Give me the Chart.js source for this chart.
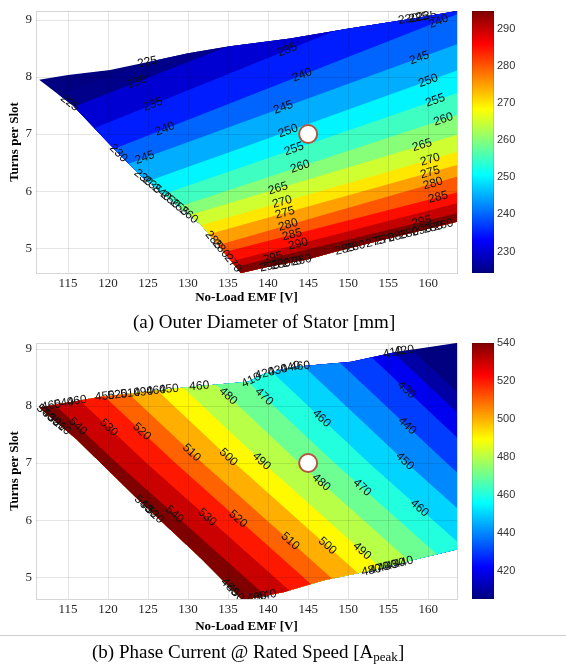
<!DOCTYPE html>
<html>
<head>
<meta charset="utf-8">
<script src="https://cdn.jsdelivr.net/npm/chart.js@4.4.1/dist/chart.umd.min.js"></script>
<style>
  body { margin: 0; background: #fff; width: 566px; height: 664px; position: relative; overflow: hidden; }
  .box { position: absolute; left: 0; width: 566px; }
  #boxA { top: 0; height: 312px; }
  #boxB { top: 332px; height: 306px; }
  .caption { position: absolute; font-family: "Liberation Serif", serif; font-size: 19px; color: #000; white-space: nowrap; line-height: 22px; }
  .caption sub { font-size: 13px; vertical-align: -3px; line-height: 0; }
  #capA { left: 133px; top: 311px; }
  #capB { left: 92px; top: 641px; }
  #sep { position: absolute; left: 0; top: 635px; width: 566px; height: 1px; background: #cfcfcf; }
</style>
</head>
<body>
<div class="box" id="boxA"><canvas id="chartA"></canvas></div>
<div class="caption" id="capA">(a) Outer Diameter of Stator [mm]</div>
<div class="box" id="boxB"><canvas id="chartB"></canvas></div>
<div id="sep"></div>
<div class="caption" id="capB">(b) Phase Current @ Rated Speed [A<sub>peak</sub>]</div>
<script>
// axes shared by both plots
const emfTicks = [115, 120, 125, 130, 135, 140, 145, 150, 155, 160];
const turnTicks = [5, 6, 7, 8, 9];
const designPoint = [{ x: 145, y: 7 }];

// ---- (a) outer diameter of stator [mm]
const levelsA = [225, 230, 235, 240, 245, 250, 255, 260, 265, 270, 275, 280, 285, 290, 295];
// each contour line as [EMF, turns] points (values grow towards the bottom)
const linesA = [
  [[108, 7.40], [137.5, 8.87], [167, 10.35]],
  [[108, 7.05], [137.5, 8.67], [167, 10.30]],
  [[108, 6.52], [137.5, 8.19], [167, 9.86]],
  [[108, 6.04], [137.5, 7.66], [167, 9.28]],
  [[108, 5.74], [137.5, 7.24], [167, 8.74]],
  [[108, 5.33], [137.5, 6.80], [167, 8.28]],
  [[108, 5.04], [137.5, 6.46], [167, 7.88]],
  [[108, 4.77], [137.5, 6.13], [167, 7.49]],
  [[108, 4.65], [137.5, 5.89], [167, 7.13]],
  [[108, 4.46], [137.5, 5.64], [167, 6.82]],
  [[108, 4.29], [137.5, 5.44], [167, 6.59]],
  [[108, 4.03], [137.5, 5.21], [167, 6.39]],
  [[108, 3.98], [137.5, 5.04], [167, 6.10]],
  [[108, 3.79], [137.5, 4.85], [167, 5.91]],
  [[108, 3.73], [137.5, 4.73], [167, 5.73]]
];
// feasible design region
const topA = [[111.4, 7.95], [115, 8.03], [120.25, 8.12], [125, 8.26], [130, 8.41], [135, 8.53], [142.75, 8.67], [149.9, 8.84], [158.1, 9.02], [164, 9.16]];
const leftA = [[111.4, 7.95], [115.6, 7.50], [120.25, 6.81], [124, 6.28], [131.7, 5.40], [136.6, 4.57]];
const bottomA = [[136.6, 4.57], [140, 4.68], [145, 4.81], [148.6, 4.95], [154.4, 5.15], [164, 5.48]];
// contour labels: [level, EMF]
const labelsA = [[230, 123.6], [235, 125.6], [235, 142.4], [240, 127.1], [240, 144.25], [240, 161.3],
  [245, 124.6], [245, 141.9], [245, 158.9], [250, 142.5], [250, 160], [255, 143.25], [255, 160.9],
  [260, 144], [260, 161.9], [265, 141.25], [265, 159.25], [270, 141.75], [270, 160.25],
  [275, 142.1], [275, 160.25], [280, 142.5], [280, 160.6], [285, 143], [285, 161.25],
  [290, 143.75], [295, 140.6], [295, 159.2]];
// labels piled up on the region border: [text, edge, EMF]
const edgeLabelsA = [
  ['225', 'top', 124.9], ['230', 'top', 157.5], ['225', 'top', 158.8], ['235', 'top', 159.8],
  ['225', 'left', 115.2], ['230', 'left', 121.3], ['230', 'left', 124.4], ['235', 'left', 125.5],
  ['240', 'left', 126.7], ['250', 'left', 127.8], ['255', 'left', 128.9], ['260', 'left', 130.1],
  ['285', 'left', 133.2], ['280', 'left', 134.1], ['270', 'left', 135.6],
  ['295', 'bottom', 140.2], ['280', 'bottom', 141.6], ['270', 'bottom', 143.0], ['260', 'bottom', 144.2],
  ['285', 'bottom', 149.6], ['280', 'bottom', 150.9], ['275', 'bottom', 153.4], ['270', 'bottom', 154.6],
  ['285', 'bottom', 156.2], ['280', 'bottom', 157.6], ['290', 'bottom', 159.2], ['280', 'bottom', 160.6], ['260', 'bottom', 161.9]
];
const cbTicksA = [230, 240, 250, 260, 270, 280, 290];

// ---- (b) phase current @ rated speed [A peak]
const levelsB = [410, 420, 430, 440, 450, 460, 470, 480, 490, 500, 510, 520, 530, 540];
// each contour line as [EMF, turns] points from top to bottom (values grow towards lower left)
const linesB = [
  [[154.0, 9.5], [173.0, 7], [194.6, 4.3]],
  [[151.3, 9.5], [170.3, 7], [191.9, 4.3]],
  [[148.0, 9.5], [167.0, 7], [188.6, 4.3]],
  [[143.3, 9.5], [162.3, 7], [183.9, 4.3]],
  [[138.3, 9.5], [157.3, 7], [178.9, 4.3]],
  [[133.6, 9.5], [152.6, 7], [174.2, 4.3]],
  [[129.3, 9.5], [148.3, 7], [169.9, 4.3]],
  [[124.9, 9.5], [143.9, 7], [165.5, 4.3]],
  [[120.4, 9.5], [139.4, 7], [161.0, 4.3]],
  [[116.8, 9.5], [135.8, 7], [157.4, 4.3]],
  [[112.8, 9.5], [131.8, 7], [153.4, 4.3]],
  [[109.4, 9.5], [128.4, 7], [150.0, 4.3]],
  [[105.8, 9.5], [124.8, 7], [146.4, 4.3]],
  [[102.1, 9.5], [121.1, 7], [142.7, 4.3]]
];
const topB = [[111.4, 7.97], [119.1, 8.16], [130.1, 8.33], [137.5, 8.42], [139.5, 8.56], [143, 8.68], [150.4, 8.77], [155.8, 8.94], [164, 9.11]];
const leftB = [[111.4, 7.97], [116.1, 7.41], [123.7, 6.37], [131.7, 5.32], [136.8, 4.60]];
const bottomB = [[136.8, 4.60], [141.9, 4.74], [147, 4.95], [152.9, 5.12], [158, 5.30], [164, 5.50]];
// contour labels: [level, turns]
const labelsB = [[540, 7.64], [540, 6.1], [530, 7.62], [530, 6.05], [520, 7.55], [520, 6.02],
  [510, 7.18], [510, 5.63], [500, 7.1], [500, 5.55], [490, 7.03], [490, 5.46],
  [480, 8.17], [480, 6.66], [470, 8.16], [470, 6.57], [460, 7.78], [460, 6.21],
  [450, 7.03], [440, 7.65], [430, 8.28]];
const edgeLabelsB = [
  ['540', 'left', 112.2], ['530', 'left', 112.9], ['520', 'left', 113.6], ['510', 'left', 114.2],
  ['540', 'left', 124.4], ['530', 'left', 125.1], ['520', 'left', 125.8],
  ['460', 'left', 135.2], ['450', 'left', 135.9],
  ['460', 'top', 112.9], ['540', 'top', 114.5], ['460', 'top', 116.1], ['450', 'top', 119.6], ['520', 'top', 121.2],
  ['510', 'top', 122.8], ['490', 'top', 124.4], ['460', 'top', 126.0], ['450', 'top', 127.6], ['460', 'top', 131.4],
  ['410', 'top', 137.9], ['420', 'top', 139.6], ['430', 'top', 141.2], ['440', 'top', 142.8], ['460', 'top', 144.0],
  ['410', 'top', 155.6], ['420', 'top', 157.0],
  ['460', 'bottom', 138.6], ['440', 'bottom', 139.8],
  ['480', 'bottom', 152.9], ['470', 'bottom', 153.9], ['460', 'bottom', 154.9], ['450', 'bottom', 155.9], ['440', 'bottom', 156.9]
];
const cbTicksB = [420, 440, 460, 480, 500, 520, 540];

// matlab jet colormap
function jet(t) {
  const c = v => Math.round(255 * Math.max(0, Math.min(1, v)));
  return `rgb(${c(1.5 - Math.abs(4 * t - 3))},${c(1.5 - Math.abs(4 * t - 2))},${c(1.5 - Math.abs(4 * t - 1))})`;
}

// point on a polyline where coordinate i equals v, with the segment it lies on
function along(pts, i, v) {
  for (let k = 0; k < pts.length - 1; k++) {
    const a = pts[k][i], b = pts[k + 1][i];
    if ((v - a) * (v - b) <= 0 && a !== b) {
      const t = (v - a) / (b - a);
      const p = [pts[k][0] + t * (pts[k + 1][0] - pts[k][0]), pts[k][1] + t * (pts[k + 1][1] - pts[k][1])];
      return { p: p, a: pts[k], b: pts[k + 1] };
    }
  }
  return null;
}

function contourPlugin(o) {
  return {
    id: 'contour',
    beforeDatasetsDraw(chart) {
      const { ctx, chartArea: a, scales: { x, y, cb } } = chart;
      const px = p => [x.getPixelForValue(p[0]), y.getPixelForValue(p[1])];
      const col = v => jet((v - o.cmin) / (o.cmax - o.cmin));

      ctx.save();
      ctx.beginPath();
      ctx.rect(a.left, a.top, a.right - a.left, a.bottom - a.top);
      ctx.clip();
      const outline = [...o.top, ...o.bottom.slice().reverse(), ...o.left.slice().reverse()];
      ctx.beginPath();
      outline.forEach((p, i) => { const [u, v] = px(p); i ? ctx.lineTo(u, v) : ctx.moveTo(u, v); });
      ctx.closePath();
      ctx.clip();
      ctx.fillStyle = col(o.cmin);
      ctx.fillRect(a.left, a.top, a.right - a.left, a.bottom - a.top);
      o.levels.forEach((lev, k) => {
        const pts = o.lines[k].map(px);
        ctx.beginPath();
        pts.forEach(([u, v], i) => i ? ctx.lineTo(u, v) : ctx.moveTo(u, v));
        const f = pts[0], l = pts[pts.length - 1];
        if (o.side === 'below') {
          ctx.lineTo(l[0], a.bottom + 300);
          ctx.lineTo(f[0], a.bottom + 300);
        } else {
          ctx.lineTo(a.left - 300, l[1]);
          ctx.lineTo(a.left - 300, f[1]);
        }
        ctx.closePath();
        ctx.fillStyle = col(lev);
        ctx.fill();
      });
      ctx.restore();

      // grid and box on top of the filled contours
      ctx.save();
      ctx.strokeStyle = 'rgba(0,0,0,0.10)';
      ctx.lineWidth = 1;
      ctx.beginPath();
      x.ticks.forEach(t => {
        const u = Math.round(x.getPixelForValue(t.value)) + 0.5;
        ctx.moveTo(u, a.top); ctx.lineTo(u, a.bottom);
      });
      y.ticks.forEach(t => {
        const v = Math.round(y.getPixelForValue(t.value)) + 0.5;
        ctx.moveTo(a.left, v); ctx.lineTo(a.right, v);
      });
      ctx.stroke();
      ctx.strokeStyle = 'rgba(0,0,0,0.16)';
      ctx.strokeRect(Math.round(a.left) + 0.5, Math.round(a.top) + 0.5, Math.round(a.right - a.left), Math.round(a.bottom - a.top));

      // colour bar
      const x0 = a.right + 15;
      for (let v = Math.floor(cb.top); v < cb.bottom; v++) {
        ctx.fillStyle = jet((cb.getValueForPixel(v + 0.5) - o.cmin) / (o.cmax - o.cmin));
        ctx.fillRect(x0, v, 22, 1);
      }
      ctx.strokeStyle = 'rgba(0,0,0,0.12)';
      ctx.strokeRect(x0 + 0.5, cb.top + 0.5, 21, cb.bottom - cb.top - 1);
      ctx.restore();
    },
    afterDatasetsDraw(chart) {
      const { ctx, chartArea: a, scales: { x, y } } = chart;
      const px = p => [x.getPixelForValue(p[0]), y.getPixelForValue(p[1])];
      const put = (text, hit) => {
        if (!hit) return;
        const [u, v] = px(hit.p);
        const [ua, va] = px(hit.a), [ub, vb] = px(hit.b);
        let ang = Math.atan2(vb - va, ub - ua);
        if (ang > Math.PI / 2) ang -= Math.PI;
        if (ang < -Math.PI / 2) ang += Math.PI;
        ctx.save();
        ctx.translate(u, v);
        ctx.rotate(ang);
        ctx.fillText(text, 0, 0);
        ctx.restore();
      };
      ctx.save();
      ctx.beginPath();
      ctx.rect(a.left, a.top, a.right - a.left, a.bottom - a.top);
      ctx.clip();
      ctx.font = '12px "Liberation Sans", Arial, sans-serif';
      ctx.fillStyle = '#111';
      ctx.textAlign = 'center';
      ctx.textBaseline = 'middle';
      const keyIdx = o.side === 'below' ? 0 : 1;
      o.labels.forEach(([lev, v]) => put(String(lev), along(o.lines[o.levels.indexOf(lev)], keyIdx, v)));
      o.edgeLabels.forEach(([text, edge, v]) => put(text, along(o[edge], 0, v)));
      ctx.restore();
    }
  };
}

const serif = '"Liberation Serif", "Times New Roman", serif';
const sans = '"Liberation Sans", Arial, sans-serif';

function makeChart(id, o) {
  return new Chart(document.getElementById(id), {
    type: 'scatter',
    data: {
      datasets: [{
        data: designPoint,
        pointRadius: 9,
        pointHoverRadius: 9,
        backgroundColor: '#ffffff',
        borderColor: '#b4553f',
        borderWidth: 2
      }]
    },
    options: {
      responsive: true,
      maintainAspectRatio: false,
      animation: false,
      events: [],
      layout: { padding: { top: o.padTop } },
      plugins: { legend: { display: false }, tooltip: { enabled: false } },
      scales: {
        x: {
          type: 'linear', min: o.xMin, max: o.xMax,
          grid: { display: false, drawTicks: false },
          border: { display: false },
          afterBuildTicks: s => { s.ticks = emfTicks.map(v => ({ value: v })); },
          afterFit: s => { s.height = 39; s.paddingLeft = 0; s.paddingRight = 0; },
          ticks: { font: { family: serif, size: 13 }, color: '#262626', padding: 3, maxRotation: 0 },
          title: { display: true, text: 'No-Load EMF [V]', color: '#000', font: { family: serif, size: 13, weight: 'bold' }, padding: { top: 0, bottom: o.xTitlePad } }
        },
        y: {
          type: 'linear', min: o.yMin, max: o.yMax,
          grid: { display: false, drawTicks: false },
          border: { display: false },
          afterBuildTicks: s => { s.ticks = turnTicks.map(v => ({ value: v })); },
          afterFit: s => { s.width = 36; s.paddingTop = 0; s.paddingBottom = 0; },
          ticks: { font: { family: serif, size: 13 }, color: '#262626', padding: 4 },
          title: { display: true, text: 'Turns per Slot', color: '#000', font: { family: serif, size: 13, weight: 'bold' }, padding: { top: 7, bottom: 0 } }
        },
        cb: {
          type: 'linear', position: 'right', min: o.cmin, max: o.cmax,
          grid: { display: false, drawTicks: false },
          border: { display: false },
          afterBuildTicks: s => { s.ticks = o.cbTicks.map(v => ({ value: v })); },
          afterFit: s => { s.width = 109; s.paddingTop = 0; s.paddingBottom = 0; },
          ticks: { font: { family: sans, size: 11 }, color: '#333', padding: 40 }
        }
      }
    },
    plugins: [contourPlugin(o)]
  });
}

makeChart('chartA', {
  levels: levelsA, lines: linesA, labels: labelsA, edgeLabels: edgeLabelsA,
  top: topA, left: leftA, bottom: bottomA, side: 'below',
  cmin: 224.2, cmax: 294.8, cbTicks: cbTicksA,
  xMin: 111, xMax: 163.6, yMin: 4.57, yMax: 9.15, padTop: 7, xTitlePad: 7
});

makeChart('chartB', {
  levels: levelsB, lines: linesB, labels: labelsB, edgeLabels: edgeLabelsB,
  top: topB, left: leftB, bottom: bottomB, side: 'left',
  cmin: 405, cmax: 540, cbTicks: cbTicksB,
  xMin: 111, xMax: 163.6, yMin: 4.62, yMax: 9.1, padTop: 10, xTitlePad: 4
});
</script>
</body>
</html>
